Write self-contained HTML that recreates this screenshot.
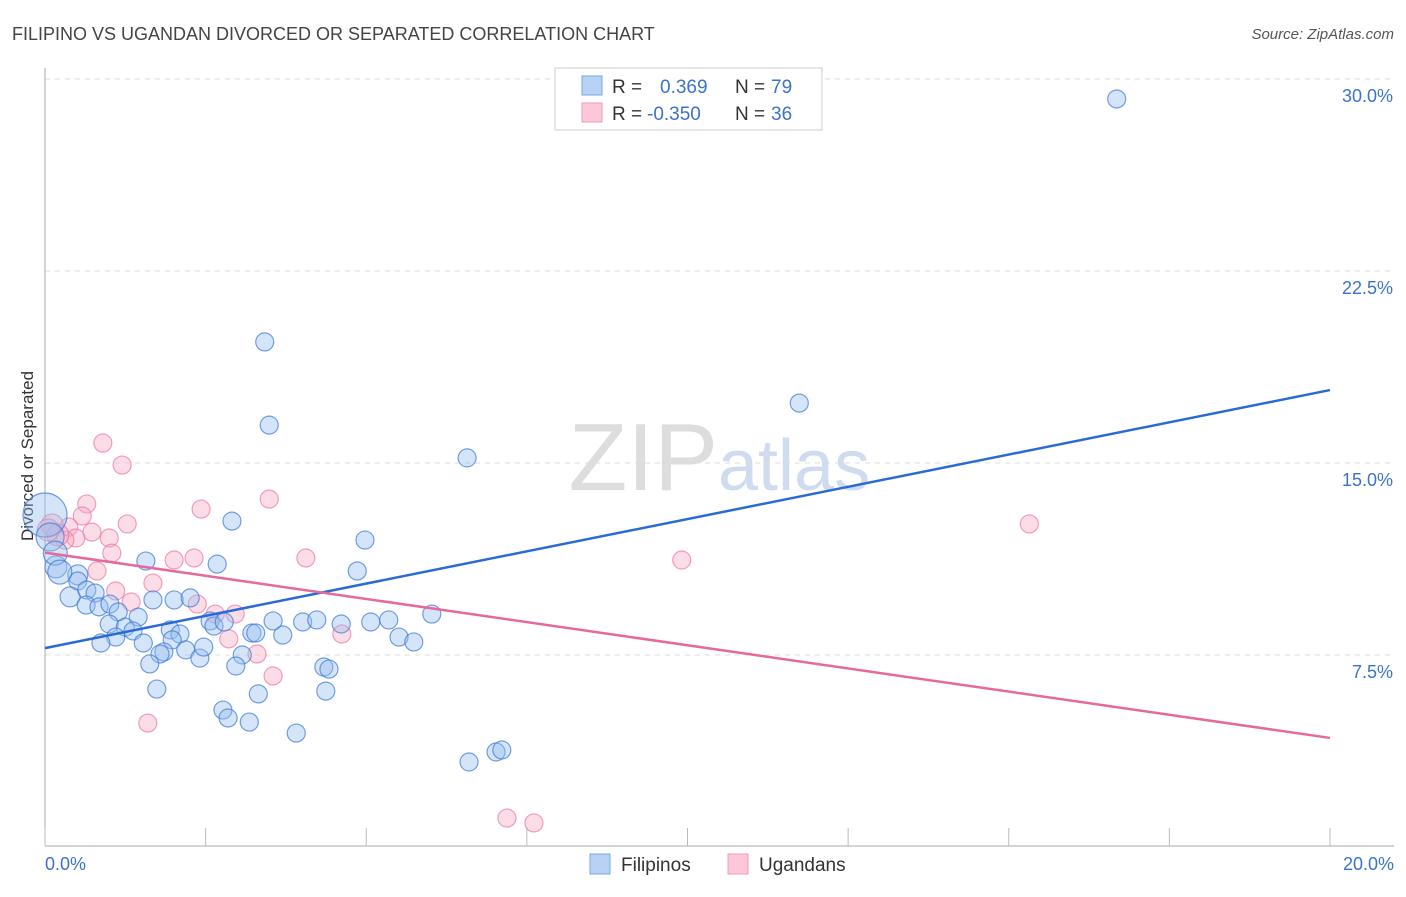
<!DOCTYPE html>
<html><head><meta charset="utf-8"><style>
body{margin:0;background:#fff;font-family:"Liberation Sans",sans-serif}
svg text{font-family:"Liberation Sans",sans-serif}
</style></head><body>
<svg id="chart" width="1406" height="892" xmlns="http://www.w3.org/2000/svg">
<text x="12" y="40" font-size="18" fill="#444">FILIPINO VS UGANDAN DIVORCED OR SEPARATED CORRELATION CHART</text>
<text x="1394" y="39" font-size="15" fill="#555" text-anchor="end" font-style="italic">Source: ZipAtlas.com</text>
<text transform="translate(33,456) rotate(-90)" font-size="17" fill="#333" text-anchor="middle">Divorced or Separated</text>
<text x="718" y="490" font-size="96" fill="#ddd" text-anchor="end" font-family="Liberation Serif">ZIP</text>
<text x="718" y="490" font-size="72" fill="#cfdcf0">atlas</text>
<g id="grid"></g><g id="axes"></g><g id="pts"></g><g id="lines"></g>
<g>
<rect x="555" y="68" width="267" height="62" fill="#fff" stroke="#ccc"/>
<rect x="582" y="76" width="20" height="19" fill="#b8d2f5" stroke="#7aa7e0"/>
<rect x="582" y="103" width="20" height="19" fill="#fcc8d8" stroke="#f09ab6"/>
<text x="612" y="93" font-size="19" fill="#333">R =</text><text x="660" y="93" font-size="19" fill="#3b73c9">0.369</text>
<text x="735" y="93" font-size="19" fill="#333">N =</text><text x="771" y="93" font-size="19" fill="#3b73c9">79</text>
<text x="612" y="120" font-size="19" fill="#333">R =</text><text x="647" y="120" font-size="19" fill="#3b73c9">-0.350</text>
<text x="735" y="120" font-size="19" fill="#333">N =</text><text x="771" y="120" font-size="19" fill="#3b73c9">36</text>
</g>
<g>
<rect x="590" y="854" width="20" height="20" fill="#b8d2f5" stroke="#7aa7e0"/>
<text x="621" y="871" font-size="19" fill="#333">Filipinos</text>
<rect x="728" y="854" width="20" height="20" fill="#fcc8d8" stroke="#f09ab6"/>
<text x="759" y="871" font-size="19" fill="#333">Ugandans</text>
</g>
</svg>
<script>
const xTicks=[0,2.5,5,7.5,10,12.5,15,17.5,20];
const yTicks=[7.5,15,22.5,30];
const yTickLabels=["7.5%","15.0%","22.5%","30.0%"];
const filX=[16.68,3.42,3.49,11.74,6.57,2.91,4.98,1.57,2.68,4.86,0.17,0.51,0.51,0.39,0.65,0.78,0.64,0.84,1.01,1.14,1.00,1.25,1.45,1.37,1.10,0.87,1.53,1.68,2.01,2.26,1.95,2.10,1.98,2.19,1.85,1.79,1.63,2.41,2.47,2.57,2.63,2.79,1.74,3.07,2.97,3.22,3.28,3.70,3.55,4.01,4.23,4.61,5.07,5.35,5.51,5.74,6.02,4.34,4.42,4.37,3.32,2.77,2.85,3.18,3.91,6.60,7.02,7.11,0,0.08,0.16,0.23];
const filY=[29.22,19.73,16.48,17.34,15.20,12.73,11.99,11.17,11.05,10.78,10.94,10.63,10.39,9.77,10.04,9.92,9.45,9.38,9.49,9.18,8.71,8.59,8.98,8.44,8.20,7.97,7.97,9.65,9.65,9.73,8.48,8.32,8.09,7.70,7.62,7.54,7.15,7.38,7.81,8.83,8.63,8.79,6.17,7.50,7.07,8.36,8.36,8.28,8.83,8.79,8.87,8.71,8.79,8.87,8.20,8.01,9.10,7.03,6.95,6.09,5.98,5.35,5.04,4.88,4.45,3.32,3.71,3.79,12.97,12.11,11.48,10.74];
const filR=[9,9,9,9,9,9,9,9,9,9,11,10,9,10,9,9,9,9,9,9,9,9,9,9,9,9,9,9,9,9,9,9,9,9,9,9,9,9,9,9,9,9,9,9,9,9,9,9,9,9,9,9,9,9,9,9,9,9,9,9,9,9,9,9,9,9,9,9,22,14,12,12];
const ugX=[0.90,1.20,0.65,0.58,0.37,1.28,2.43,3.49,0.73,0.48,0.31,1.00,1.04,2.01,2.32,4.06,0.81,1.68,1.10,1.34,2.37,2.65,2.96,2.86,3.30,3.55,4.62,1.60,9.91,15.32,7.19,7.61,0.11,0.20,0.05];
const ugY=[15.78,14.92,13.40,12.93,12.50,12.62,13.20,13.59,12.30,12.07,11.99,12.07,11.48,11.21,11.29,11.29,10.78,10.31,10.00,9.57,9.49,9.10,9.10,8.13,7.54,6.68,8.32,4.84,11.21,12.62,1.13,0.94,12.58,12.19,12.38];
const filTrend=[7.77,17.85];
const ugTrend=[11.5,4.26];
const NS="http://www.w3.org/2000/svg";
const X=v=>45+v/20*1285, Y=v=>847-v*25.6;
function mk(tag,at,parent){const e=document.createElementNS(NS,tag);for(const k in at)e.setAttribute(k,at[k]);document.getElementById(parent).appendChild(e);return e;}
yTicks.forEach((t,i)=>{
 const g=mk('line',{x1:45,x2:1394,y1:Y(t),y2:Y(t),stroke:'#ddd','stroke-dasharray':'5,5'},'grid');
 
 
 const l=mk('text',{x:1393,y:Y(t)+23,'font-size':18,fill:'#3b73c9','text-anchor':'end'},'axes');
 l.textContent=yTickLabels[i];
 
 
});
const ax=mk('line',{x1:45,x2:45,y1:68,y2:846,stroke:'#aaa'},'axes');


const bx=mk('line',{x1:45,x2:1394,y1:846,y2:846,stroke:'#aaa'},'axes');


xTicks.forEach(t=>{
 const k=mk('line',{x1:X(t),x2:X(t),y1:828,y2:846,stroke:'#bbb'},'axes');
 
 
});
const x0=mk('text',{x:45,y:870,'font-size':18,fill:'#3b73c9'},'axes');x0.textContent='0.0%';


const x1=mk('text',{x:1394,y:870,'font-size':18,fill:'#3b73c9','text-anchor':'end'},'axes');x1.textContent='20.0%';


ugX.forEach((v,i)=>{
 const c=mk('circle',{cx:X(v),cy:Y(ugY[i]),r:(i>=32?11:9),fill:'rgba(248,170,195,0.4)',stroke:'rgba(235,120,160,0.7)','stroke-width':1.2},'pts');
 
 
});
filX.forEach((v,i)=>{
 const c=mk('circle',{cx:X(v),cy:Y(filY[i]),r:filR[i],fill:'rgba(150,190,240,0.4)',stroke:'rgba(60,120,210,0.7)','stroke-width':1.2},'pts');
 
 
});
const tl1=mk('line',{x1:X(0),x2:X(20),y1:Y(filTrend[0]),y2:Y(filTrend[1]),stroke:'#2a6ad6','stroke-width':2.5},'lines');


const tl2=mk('line',{x1:X(0),x2:X(20),y1:Y(ugTrend[0]),y2:Y(ugTrend[1]),stroke:'#e5699a','stroke-width':2.5},'lines');


</script>
</body></html>
